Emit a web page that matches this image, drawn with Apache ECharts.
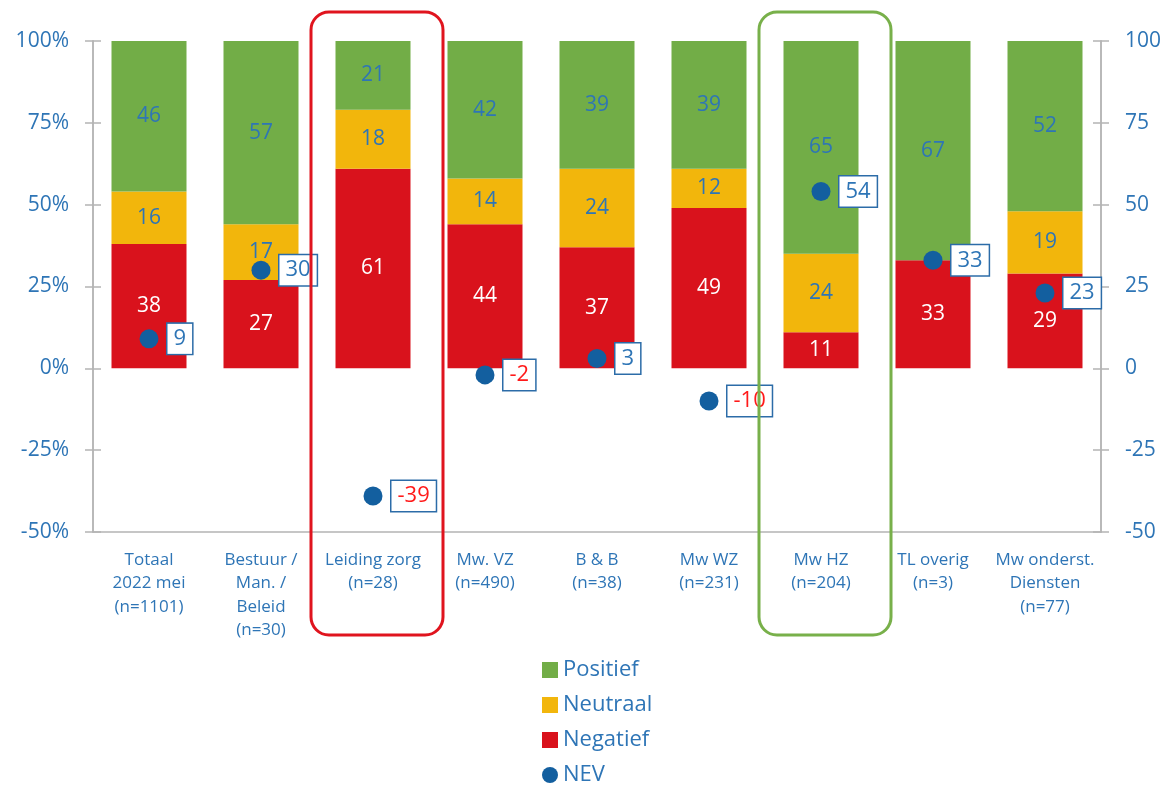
<!DOCTYPE html>
<html>
<head>
<meta charset="utf-8">
<script src="https://cdn.jsdelivr.net/npm/echarts@6/dist/echarts.min.js"></script>
<style>
  html, body { margin: 0; padding: 0; background: #fff; }
  #chart { width: 1176px; height: 785px; }
</style>
</head>
<body>
<div id="chart"></div>
<script>
const categories = [
  'Totaal\n2022 mei\n(n=1101)',
  'Bestuur /\nMan. /\nBeleid\n(n=30)',
  'Leiding zorg\n(n=28)',
  'Mw. VZ\n(n=490)',
  'B & B\n(n=38)',
  'Mw WZ\n(n=231)',
  'Mw HZ\n(n=204)',
  'TL overig\n(n=3)',
  'Mw onderst.\nDiensten\n(n=77)'
];
const negatief = [38, 27, 61, 44, 37, 49, 11, 33, 29];
const neutraal = [16, 17, 18, 14, 24, 12, 24, 0, 19];
const positief = [46, 57, 21, 42, 39, 39, 65, 67, 52];
const nev = [9, 30, -39, -2, 3, -10, 54, 33, 23];

// categories to highlight with a rounded frame
const highlights = [
  { index: 2, color: '#e0141e' },
  { index: 6, color: '#78b04a' }
];

const blue = '#2e75b6';
const axisGray = '#b4b4b4';
const font = 'Open Sans';

const chart = echarts.init(document.getElementById('chart'));

function yAxis(position, withLabels, inside) {
  return {
    type: 'value',
    position: position,
    min: -50,
    max: 100,
    interval: 25,
    splitLine: { show: false },
    axisLine: { show: true, lineStyle: { color: axisGray, width: 1.5 } },
    axisTick: { show: true, inside: inside, length: 8, lineStyle: { color: axisGray, width: 1.5 } },
    axisLabel: {
      show: withLabels,
      color: blue,
      fontSize: 21,
      fontFamily: font,
      margin: 24,
      formatter: position === 'left' ? '{value}%' : '{value}'
    }
  };
}

function barSeries(name, data, color, textColor) {
  return {
    name: name,
    type: 'bar',
    stack: 'total',
    barWidth: 75,
    data: data,
    itemStyle: { color: color },
    label: {
      show: true,
      position: 'inside',
      color: textColor,
      fontSize: 21,
      fontFamily: font,
      formatter: p => (p.value > 0 ? p.value : '')
    }
  };
}

const option = {
  backgroundColor: '#fff',
  animation: false,
  textStyle: { fontFamily: font },
  grid: { left: 93, right: 75, top: 41, bottom: 253 },
  legend: {
    orient: 'vertical',
    left: 537,
    top: 654,
    height: 200,
    itemWidth: 16,
    itemHeight: 16,
    itemGap: 13,
    textStyle: { color: blue, fontSize: 22, fontFamily: font },
    data: [
      { name: 'Positief', icon: 'rect' },
      { name: 'Neutraal', icon: 'rect' },
      { name: 'Negatief', icon: 'rect' },
      { name: 'NEV', icon: 'circle' }
    ]
  },
  xAxis: {
    type: 'category',
    data: categories,
    axisLine: { show: true, onZero: false, lineStyle: { color: axisGray, width: 1.5 } },
    axisTick: { show: false },
    axisLabel: {
      color: blue,
      fontSize: 17,
      lineHeight: 23.5,
      fontFamily: font,
      margin: 16,
      interval: 0
    }
  },
  yAxis: [
    yAxis('left', true, false),
    yAxis('right', true, false),
    yAxis('left', false, true),
    yAxis('right', false, true)
  ],
  series: [
    barSeries('Negatief', negatief, '#d9121c', '#ffffff'),
    barSeries('Neutraal', neutraal, '#f2b60c', blue),
    barSeries('Positief', positief, '#72ad47', blue),
    {
      name: 'NEV',
      type: 'scatter',
      yAxisIndex: 1,
      symbol: 'circle',
      symbolSize: 19,
      itemStyle: { color: '#135f9f', opacity: 1 },
      z: 5,
      data: nev.map(v => ({
        value: v,
        label: { color: v < 0 ? '#ff1a1a' : blue }
      })),
      label: {
        show: true,
        position: 'right',
        distance: 9,
        fontSize: 22,
        fontFamily: font,
        backgroundColor: '#fff',
        borderColor: '#2c6ca8',
        borderWidth: 1.5,
        padding: [5, 6, 3, 6]
      }
    }
  ]
};

chart.setOption(option);

// rounded frames around highlighted categories, positioned from the axes
const yTop = chart.convertToPixel({ yAxisIndex: 0 }, 100) - 29;
const yBottom = chart.convertToPixel({ yAxisIndex: 0 }, -50) + 103;
chart.setOption({
  graphic: highlights.map(h => {
    const cx = chart.convertToPixel({ xAxisIndex: 0 }, h.index);
    return {
      type: 'rect',
      z: 10,
      shape: { x: cx - 62, y: yTop, width: 132, height: yBottom - yTop, r: 18 },
      style: { fill: 'none', stroke: h.color, lineWidth: 3 }
    };
  })
});
</script>
</body>
</html>
